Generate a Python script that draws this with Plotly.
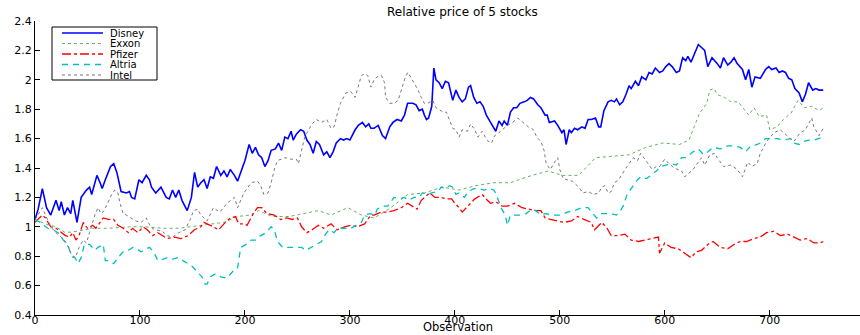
import plotly.graph_objects as go

# ---------------- data ----------------
names = ["Disney", "Exxon", "Pfizer", "Altria", "Intel"]

disney_obs = [0,3,7,11,15,20,23,25,28,31,34,36,40,44,49,52,54,59,62,64,67,72,75,78,82,87,90,92,95,99,102,106,109,111,115,118,120,125,128,131,134,137,140,145,149,152,155,158,161,164,167,170,173,177,180,183,186,190,193,198,200,204,207,210,213,216,219,222,225,229,232,235,238,241,244,246,249,253,256,259,262,265,268,271,275,278,281,284,287,291,294,297,300,305,308,312,315,318,320,323,327,331,334,338,341,345,349,352,355,360,363,366,369,371,373,375,378,380,382,385,388,391,394,398,401,404,407,410,413,415,418,421,424,427,430,434,437,439,442,445,447,450,453,456,459,462,466,469,472,475,479,482,486,488,490,495,498,502,504,506,509,511,514,517,521,524,527,530,534,537,539,542,546,549,552,554,557,560,563,566,568,572,575,578,582,585,588,591,595,598,601,604,607,611,614,617,620,622,625,628,632,635,638,641,645,650,653,656,660,663,666,669,674,677,680,683,686,691,696,699,702,706,709,712,715,718,721,724,728,731,734,737,741,744,747,751]
disney_val = [1.05,1.12,1.26,1.13,1.08,1.18,1.11,1.17,1.08,1.13,1.09,1.18,1.03,1.20,1.25,1.27,1.22,1.35,1.30,1.26,1.32,1.41,1.43,1.37,1.24,1.23,1.24,1.20,1.19,1.32,1.30,1.35,1.32,1.27,1.23,1.25,1.27,1.20,1.19,1.25,1.20,1.25,1.18,1.11,1.20,1.37,1.27,1.30,1.32,1.26,1.34,1.33,1.41,1.35,1.38,1.34,1.39,1.35,1.31,1.41,1.45,1.56,1.50,1.54,1.49,1.47,1.41,1.45,1.52,1.53,1.57,1.52,1.61,1.60,1.65,1.59,1.63,1.66,1.65,1.59,1.56,1.50,1.58,1.56,1.49,1.51,1.47,1.51,1.57,1.60,1.59,1.60,1.59,1.66,1.69,1.71,1.68,1.70,1.67,1.67,1.69,1.62,1.60,1.68,1.71,1.73,1.72,1.76,1.84,1.84,1.83,1.79,1.80,1.76,1.73,1.74,1.82,2.08,2.00,1.98,1.94,1.99,1.98,1.86,1.93,1.88,1.85,1.87,1.95,1.96,1.88,1.84,1.85,1.82,1.76,1.71,1.67,1.65,1.72,1.69,1.72,1.69,1.78,1.81,1.81,1.84,1.85,1.86,1.88,1.87,1.83,1.81,1.76,1.76,1.71,1.72,1.69,1.64,1.66,1.56,1.66,1.64,1.67,1.66,1.68,1.67,1.73,1.73,1.74,1.68,1.68,1.79,1.85,1.86,1.85,1.87,1.83,1.85,1.90,1.96,1.94,1.99,1.96,2.02,2.00,2.05,2.04,2.08,2.05,2.06,2.09,2.11,2.09,2.05,2.06,2.15,2.13,2.16,2.12,2.17,2.24,2.22,2.20,2.09,2.15,2.11,2.08,2.15,2.10,2.12,2.15,2.11,2.07,2.00,2.07,1.95,2.02,2.01,2.07,2.09,2.07,2.08,2.05,2.06,2.05,2.01,2.00,1.94,1.91,1.85,1.90,1.98,1.93,1.94,1.93,1.93]

exxon_obs = [0,10,20,29,40,55,70,90,105,122,137,157,172,180,193,205,213,226,242,257,270,282,298,311,323,339,355,371,388,404,420,437,453,469,489,502,518,534,550,566,582,598,614,623,633,640,643,647,650,657,663,670,680,685,690,697,700,707,713,720,727,733,740,747,751]
exxon_val = [1.05,1.02,1.00,0.96,0.97,0.99,0.99,1.00,1.00,0.99,0.99,1.01,1.02,1.03,1.07,1.08,1.11,1.07,1.07,1.09,1.11,1.08,1.13,1.08,1.06,1.13,1.22,1.23,1.27,1.25,1.28,1.30,1.30,1.34,1.38,1.35,1.35,1.47,1.48,1.49,1.54,1.57,1.56,1.59,1.77,1.84,1.93,1.94,1.90,1.88,1.85,1.85,1.76,1.81,1.75,1.76,1.66,1.68,1.73,1.77,1.86,1.81,1.82,1.79,1.81]

pfizer_obs = [0,7,10,15,20,25,29,33,36,39,42,46,50,55,58,62,65,70,75,79,84,89,93,98,103,107,112,117,122,126,133,139,146,152,158,161,167,175,180,186,191,194,199,202,208,212,216,221,228,234,240,245,250,254,259,264,270,275,282,288,295,301,307,314,320,323,330,336,342,349,355,362,364,368,371,376,381,387,392,397,400,404,407,410,415,419,426,431,434,439,445,450,457,464,470,477,482,486,491,498,504,511,517,523,530,533,540,545,549,555,562,568,575,581,587,594,595,600,606,613,619,625,630,635,641,646,653,660,666,672,678,685,691,697,704,710,717,723,729,736,742,748,751]
pfizer_val = [1.03,1.08,1.06,1.00,0.99,0.96,0.94,0.93,0.96,0.91,0.94,1.03,0.99,1.01,0.99,1.03,1.06,1.05,1.05,1.01,0.99,0.96,0.99,0.96,1.00,0.98,0.94,0.96,0.94,0.92,0.93,0.92,0.94,0.98,1.00,1.03,1.01,0.98,1.02,1.06,1.07,1.02,1.02,1.01,1.09,1.13,1.13,1.09,1.08,1.05,1.06,1.05,1.06,1.00,0.96,0.98,1.01,0.99,1.02,0.98,1.00,1.01,1.00,1.02,1.08,1.08,1.10,1.10,1.11,1.13,1.16,1.13,1.12,1.18,1.20,1.23,1.20,1.20,1.19,1.19,1.16,1.13,1.10,1.12,1.16,1.19,1.22,1.18,1.16,1.17,1.14,1.14,1.16,1.13,1.12,1.11,1.11,1.06,1.05,1.04,1.03,1.04,1.07,1.05,1.03,0.98,1.03,0.99,0.94,0.94,0.95,0.91,0.90,0.91,0.92,0.93,0.82,0.89,0.86,0.85,0.82,0.79,0.83,0.84,0.88,0.90,0.86,0.85,0.88,0.90,0.90,0.92,0.93,0.96,0.97,0.94,0.95,0.93,0.91,0.92,0.89,0.89,0.90]

altria_obs = [0,5,12,17,22,27,31,34,38,41,44,47,52,57,60,65,67,71,75,79,84,89,93,97,101,106,109,113,117,122,126,131,136,141,146,150,155,159,162,164,167,172,177,183,190,193,196,201,206,210,215,220,225,228,231,236,241,247,254,258,263,268,273,276,280,285,288,295,301,306,311,314,319,324,326,331,336,342,347,352,356,361,366,369,374,378,384,387,391,395,398,401,404,409,413,418,423,428,433,437,439,444,448,450,453,458,463,468,473,477,482,486,494,501,507,514,521,527,532,535,540,549,554,557,561,564,567,570,574,577,580,583,587,592,596,601,606,611,616,620,627,632,637,641,646,653,660,666,672,677,682,688,691,696,701,707,713,720,723,728,732,737,742,747,751]
altria_val = [1.05,1.03,0.99,0.98,0.96,0.91,0.88,0.82,0.79,0.75,0.79,0.88,0.88,0.84,0.86,0.88,0.77,0.77,0.75,0.79,0.83,0.84,0.86,0.85,0.83,0.85,0.86,0.83,0.77,0.78,0.79,0.78,0.79,0.77,0.75,0.73,0.69,0.66,0.61,0.61,0.66,0.68,0.66,0.65,0.71,0.72,0.86,0.88,0.91,0.91,0.94,0.96,1.00,0.98,0.90,0.86,0.86,0.86,0.86,0.84,0.86,0.88,0.90,0.94,0.98,0.96,0.99,0.99,0.99,1.01,1.03,1.08,1.09,1.08,1.12,1.14,1.14,1.20,1.19,1.20,1.18,1.20,1.20,1.23,1.22,1.23,1.24,1.27,1.26,1.28,1.27,1.22,1.23,1.20,1.24,1.26,1.26,1.25,1.26,1.25,1.23,1.13,1.08,1.01,1.08,1.08,1.08,1.09,1.12,1.11,1.08,1.09,1.08,1.08,1.10,1.11,1.13,1.13,1.09,1.06,1.09,1.09,1.08,1.10,1.15,1.22,1.25,1.28,1.32,1.34,1.33,1.33,1.35,1.38,1.41,1.42,1.43,1.42,1.47,1.47,1.51,1.53,1.49,1.51,1.54,1.53,1.55,1.55,1.54,1.51,1.55,1.56,1.57,1.60,1.60,1.60,1.59,1.60,1.57,1.56,1.58,1.59,1.59,1.60,1.61]

intel_obs = [0,7,10,15,20,25,30,33,36,39,42,46,49,52,55,57,60,63,66,70,73,76,79,81,84,87,92,96,101,106,110,114,121,126,131,137,143,148,151,155,158,161,164,170,176,183,190,193,199,206,212,215,218,222,225,228,231,238,244,249,251,254,257,263,268,273,278,282,285,288,291,296,301,305,308,311,314,317,320,323,326,330,333,334,338,342,346,349,352,355,358,361,365,368,371,374,379,382,386,389,392,395,398,401,404,407,412,415,419,422,426,429,432,435,438,442,445,448,450,455,460,465,470,475,478,482,485,487,491,495,498,500,503,507,512,518,522,527,532,537,540,543,546,549,552,556,560,564,567,570,574,577,582,585,588,592,595,600,604,609,613,616,619,622,627,632,635,638,643,648,650,656,663,669,674,679,683,688,691,697,704,710,717,723,729,734,740,742,747,751]
intel_val = [1.05,1.13,1.08,1.00,0.96,0.93,0.89,0.84,0.79,0.80,0.86,0.91,0.89,0.96,1.03,1.08,1.13,1.09,1.11,1.18,1.22,1.25,1.23,1.16,1.09,1.08,1.06,1.04,1.03,1.06,1.00,0.98,0.97,0.94,0.93,0.96,0.98,1.05,1.11,1.12,1.08,1.06,1.04,1.13,1.10,1.16,1.20,1.13,1.23,1.30,1.31,1.28,1.22,1.23,1.30,1.39,1.45,1.47,1.46,1.46,1.43,1.52,1.61,1.69,1.73,1.71,1.73,1.67,1.68,1.77,1.84,1.91,1.92,1.88,1.96,2.03,2.04,2.03,1.95,2.00,2.02,2.03,1.98,1.88,1.84,1.84,1.86,1.93,2.00,2.05,2.02,1.98,1.93,1.88,1.84,1.84,1.86,1.81,1.79,1.78,1.78,1.73,1.67,1.66,1.61,1.66,1.65,1.70,1.66,1.61,1.65,1.61,1.58,1.57,1.62,1.64,1.66,1.68,1.69,1.71,1.74,1.71,1.68,1.66,1.61,1.58,1.52,1.43,1.39,1.44,1.47,1.39,1.33,1.32,1.31,1.27,1.23,1.24,1.22,1.23,1.27,1.28,1.23,1.24,1.30,1.32,1.37,1.41,1.44,1.47,1.45,1.50,1.45,1.42,1.39,1.41,1.41,1.46,1.43,1.40,1.39,1.38,1.34,1.36,1.39,1.44,1.47,1.42,1.49,1.50,1.47,1.41,1.42,1.39,1.34,1.44,1.41,1.43,1.50,1.58,1.64,1.66,1.62,1.58,1.64,1.66,1.74,1.68,1.62,1.67]

x_ticks = [0, 100, 200, 300, 400, 500, 600, 700]
y_ticks = [0.4, 0.6, 0.8, 1.0, 1.2, 1.4, 1.6, 1.8, 2.0, 2.2, 2.4]
title_text = "Relative price of 5 stocks"
x_label = "Observation"

# ---------------- styling ----------------
series = [
    (disney_obs, disney_val, dict(color="#0000ff", width=1.6, dash="solid")),
    (exxon_obs, exxon_val, dict(color="rgb(100,175,100)", width=1, dash="dot")),
    (pfizer_obs, pfizer_val, dict(color="#ff0000", width=1.3, dash="dashdot")),
    (altria_obs, altria_val, dict(color="#00bfbf", width=1.3, dash="6px,5px")),
    (intel_obs, intel_val, dict(color="rgb(120,120,120)", width=1, dash="dot")),
]

FONT = "DejaVu Sans"
W, H = 860, 335
ML, MR, MT, MB = 35, 0, 21, 20
PW, PH = W - ML - MR, H - MT - MB

def px_to_paper_x(px):
    return (px - ML) / PW

def py_to_paper_y(py):
    return (H - MB - py) / PH

fig = go.Figure()
for (xs, ys, style), name in zip(series, names):
    fig.add_trace(go.Scatter(x=xs, y=ys, mode="lines", name=name,
                             line=style, showlegend=False, hoverinfo="skip"))

# manual MATLAB-like legend
shapes = [dict(type="rect", xref="paper", yref="paper",
               x0=px_to_paper_x(52), x1=px_to_paper_x(157),
               y0=py_to_paper_y(80), y1=py_to_paper_y(27),
               line=dict(color="black", width=1), fillcolor="white", layer="above")]
annotations = []
row0, rowstep = 33.0, 10.5
for i, ((xs, ys, style), name) in enumerate(zip(series, names)):
    yy = py_to_paper_y(row0 + i * rowstep)
    shapes.append(dict(type="line", xref="paper", yref="paper",
                       x0=px_to_paper_x(62), x1=px_to_paper_x(103), y0=yy, y1=yy,
                       line=dict(color=style["color"], width=style["width"], dash=style["dash"]),
                       layer="above"))
    annotations.append(dict(text=name, xref="paper", yref="paper",
                            x=px_to_paper_x(109), y=yy, xanchor="left", yanchor="middle",
                            showarrow=False, borderpad=0,
                            font=dict(family=FONT, size=10, color="black")))

annotations.append(dict(text=title_text, xref="paper", yref="paper",
                        x=px_to_paper_x(462), y=py_to_paper_y(12),
                        xanchor="center", yanchor="middle", showarrow=False,
                        font=dict(family=FONT, size=12, color="black")))
annotations.append(dict(text=x_label, xref="paper", yref="paper",
                        x=px_to_paper_x(458), y=py_to_paper_y(335),
                        xanchor="center", yanchor="bottom", showarrow=False,
                        borderpad=0,
                        font=dict(family=FONT, size=11.5, color="black")))

axis_common = dict(showline=True, linecolor="black", linewidth=1, ticks="inside",
                   ticklen=5, tickcolor="black", showgrid=False, zeroline=False,
                   mirror=False, automargin=False,
                   tickfont=dict(family=FONT, size=11, color="black"))

fig.update_layout(
    width=W, height=H,
    margin=dict(l=ML, r=MR, t=MT, b=MB, pad=0),
    paper_bgcolor="white", plot_bgcolor="white",
    xaxis=dict(range=[0, 786], tickvals=x_ticks, ticklabelstandoff=-5,
               ticktext=[str(v) for v in x_ticks], **axis_common),
    yaxis=dict(range=[0.4, 2.4], tickvals=y_ticks,
               ticktext=[("%g" % v) for v in y_ticks], **axis_common),
    shapes=shapes, annotations=annotations,
    showlegend=False,
)

fig.write_html("out.html", config={"displayModeBar": False})
